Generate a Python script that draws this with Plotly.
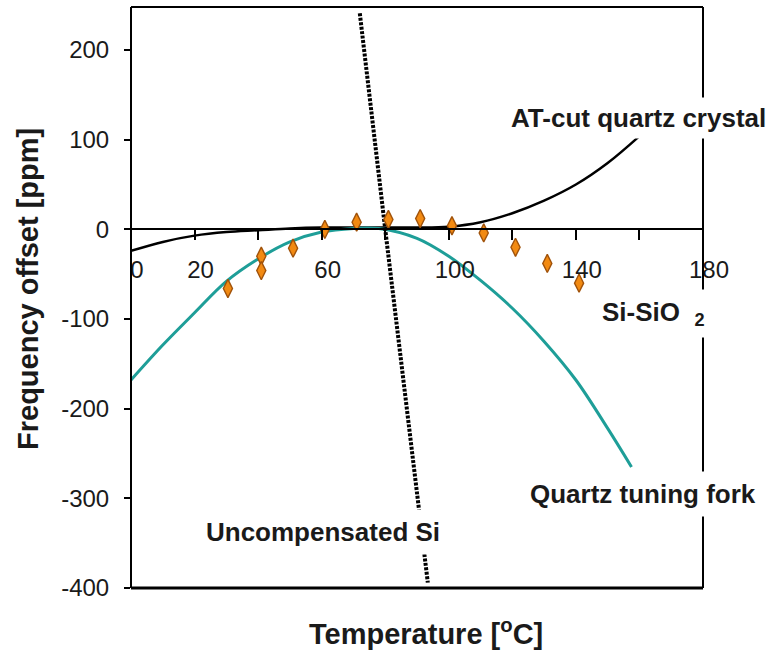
import plotly.graph_objects as go

# ---- data ----
at_cut_temp = [0, 10, 20, 30, 40, 50, 60, 70, 80, 90, 100, 110, 120, 130, 140, 150, 160]
at_cut_ppm = [-24, -14, -7, -3, -1, 1, 2, 2, 2, 2, 3, 8, 18, 32, 50, 74, 104]

fork_temp = [0, 10, 20, 30, 40, 50, 60, 70, 78, 90, 100, 110, 120, 130, 140, 150, 157.5]
fork_ppm = [-168, -129, -93, -58, -33, -14, -3, 1, 1, -10, -30, -57, -88, -125, -168, -222, -265]

si_temp = [72, 80, 93.4]
si_ppm = [241, 0, -394]

sio2_temp = [30.5, 41, 41, 51, 61, 71, 81, 91, 101, 111, 121, 131, 141]
sio2_ppm = [-66, -30, -46, -21, 0, 8, 11, 12, 4, -4, -20, -38, -60]

x_tickvals = [0, 20, 60, 100, 140, 180]
x_ticktext = ["0", "20", "60", "100", "140", "180"]
x_minorvals = [40, 80, 120, 160]
y_tickvals = [-400, -300, -200, -100, 0, 100, 200]
y_ticktext = ["-400", "-300", "-200", "-100", "0", "100", "200"]

Y_MIN, Y_MAX = -400, 248

FONT = "Liberation Sans, Arial, Helvetica, sans-serif"
TXT = "#1a1a1a"

W, H = 769, 654
ML, MR, MT, MB = 131, 66, 7, 66

fig = go.Figure()

fig.add_trace(go.Scatter(x=at_cut_temp, y=at_cut_ppm, mode="lines",
                         line=dict(color="black", width=2.5), line_shape="spline",
                         showlegend=False))
fig.add_trace(go.Scatter(x=fork_temp, y=fork_ppm, mode="lines",
                         line=dict(color="#1E9E98", width=3), line_shape="spline",
                         showlegend=False))
fig.add_trace(go.Scatter(x=si_temp, y=si_ppm, mode="lines",
                         line=dict(color="black", width=4, dash="3px,1.5px"),
                         showlegend=False))
fig.add_trace(go.Scatter(x=sio2_temp, y=sio2_ppm, mode="markers",
                         marker=dict(symbol="diamond-tall", size=13, color="#F28A12",
                                     line=dict(color="#A0520A", width=1.4)),
                         showlegend=False))

# frame
fig.add_shape(type="line", xref="paper", yref="paper", x0=0, x1=1, y0=1, y1=1,
              line=dict(color="black", width=2), layer="above")
fig.add_shape(type="line", xref="paper", yref="paper", x0=0, x1=1, y0=0, y1=0,
              line=dict(color="black", width=3), layer="above")
fig.add_shape(type="line", xref="paper", yref="paper", x0=0, x1=0, y0=0, y1=1,
              line=dict(color="black", width=2), layer="above")
fig.add_shape(type="line", xref="paper", yref="paper", x0=1, x1=1, y0=0, y1=1,
              line=dict(color="black", width=2), layer="above")

lab = dict(family=FONT, size=26, color=TXT)

fig.add_annotation(x=159.6, y=124, xref="x", yref="y", text="<b>AT-cut quartz crystal</b>",
                   showarrow=False, font=lab, bgcolor="white", borderpad=5)
fig.add_annotation(x=164.3, y=-94, xref="x", yref="y", text="<b>Si-SiO\u00a0\u00a0<sub>2</sub></b>",
                   showarrow=False, font=lab, bgcolor="white", borderpad=7)
fig.add_annotation(x=161, y=-295, xref="x", yref="y", text="<b>Quartz tuning fork</b>",
                   showarrow=False, font=lab, bgcolor="white", borderpad=7)
fig.add_annotation(x=60.3, y=-338, xref="x", yref="y", text="<b>Uncompensated Si</b>",
                   showarrow=False, font=lab, bgcolor="white", borderpad=7)

def px_to_paper(px, py):
    return (px - ML) / (W - ML - MR), 1 - (py - MT) / (H - MT - MB)

tx, ty = px_to_paper(28, 289)
fig.add_annotation(x=tx, y=ty, xref="paper", yref="paper", text="<b>Frequency offset [ppm]</b>",
                   xanchor="center", yanchor="middle",
                   showarrow=False, textangle=-90, font=dict(family=FONT, size=29, color=TXT))
tx, ty = px_to_paper(426, 632)
fig.add_annotation(x=tx, y=ty, xref="paper", yref="paper", text="<b>Temperature [<sup>o</sup>C]</b>",
                   xanchor="center", yanchor="middle",
                   showarrow=False, font=dict(family=FONT, size=29, color=TXT))

fig.update_layout(
    width=W, height=H,
    margin=dict(l=ML, r=MR, t=MT, b=MB),
    plot_bgcolor="white", paper_bgcolor="white",
    xaxis=dict(range=[0, 180], anchor="free", position=(0 - Y_MIN) / (Y_MAX - Y_MIN),
               tickvals=x_tickvals, ticktext=x_ticktext,
               showline=True, linecolor="black", linewidth=2,
               ticks="outside", ticklen=10, tickwidth=2, tickcolor="black",
               minor=dict(tickvals=x_minorvals, ticks="outside", ticklen=10,
                          tickwidth=2, tickcolor="black", showgrid=False),
               ticklabelstandoff=9, ticklabelshift=6,
               tickfont=dict(family=FONT, size=24, color=TXT),
               showgrid=False, zeroline=False),
    yaxis=dict(range=[Y_MIN, Y_MAX], tickvals=y_tickvals, ticktext=y_ticktext,
               ticks="outside", ticklen=6, tickwidth=2, tickcolor="black",
               tickfont=dict(family=FONT, size=24, color=TXT),
               ticklabelstandoff=10,
               showline=False, showgrid=False, zeroline=False),
)

fig.write_html("out.html", config={"displayModeBar": False},
               post_script="document.body.style.margin='0';")
